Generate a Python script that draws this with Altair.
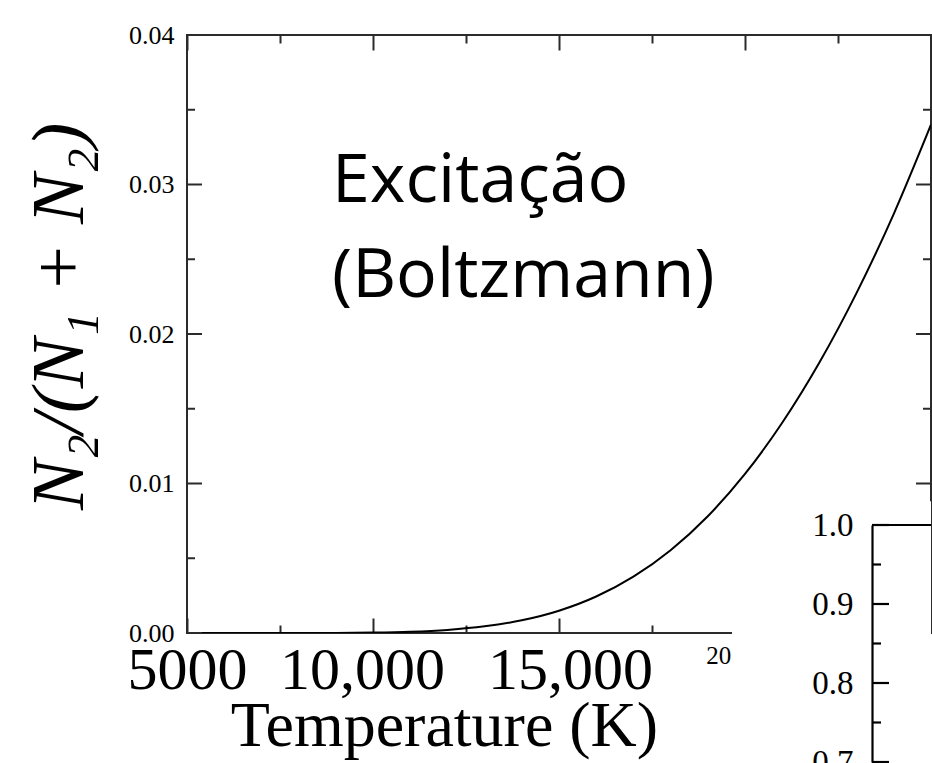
import altair as alt
import pandas as pd

# ---- data ----
temperature_k = [5000, 6000, 7000, 8000, 9000, 10000, 11000, 12000, 13000, 14000, 15000,
                 16000, 17000, 18000, 19000, 20000, 21000, 22000, 23000, 24000, 25000]
fraction_n2 = [0.0, 0.0, 0.0000002, 0.0000015, 0.0000078, 0.000029, 0.000085, 0.000208, 0.000445,
               0.00085, 0.00149, 0.00244, 0.00377, 0.00554, 0.00781, 0.01064, 0.01406, 0.01809,
               0.02275, 0.02804, 0.0340]

y_major = [0.0, 0.01, 0.02, 0.03, 0.04]
y_minor = [0.005, 0.015, 0.025, 0.035]
x_major = [5000, 10000, 15000, 20000, 25000]
x_minor = [7500, 12500, 17500, 22500]
x_big_labels = [5000, 10000, 15000]
x_small_labels = [20000]
inset_major = [0.7, 0.8, 0.9, 1.0]
inset_minor = [0.75, 0.85, 0.95]
annot_text = ["Excitação", "(Boltzmann)"]
annot_t = [8900, 8900]
annot_f = [0.0288, 0.02245]

# ---- layout ----
W, H = 744, 598
X_DOMAIN = [5000, 25000]
Y_DOMAIN = [0.0, 0.04]
INSET_T0 = 23414          # inset frame position on the main temperature axis
INSET_BOX_T = [19650, 25000]
INSET_DOMAIN = [0.7, 1.0]
INSET_RANGE = [727, 490]
INSET_BOX_F = [0.69, 1.03]
INSET_PX = (INSET_T0 - X_DOMAIN[0]) / (X_DOMAIN[1] - X_DOMAIN[0]) * W
MAJOR, MINOR = 15, 8
PX_T = (X_DOMAIN[1] - X_DOMAIN[0]) / W   # temperature units per pixel

SERIF = "Liberation Serif"
FRAME = "#2b2b2b"
TW = 2

curve = pd.DataFrame({"T": temperature_k, "f": fraction_n2})
xs = alt.Scale(domain=X_DOMAIN, nice=False, zero=False)
ys = alt.Scale(domain=Y_DOMAIN, nice=False, zero=False)
ins = alt.Scale(domain=INSET_DOMAIN, range=INSET_RANGE, nice=False, zero=False)


def tick_axis(orient, values, size, offset=0):
    return alt.Axis(orient=orient, values=values, offset=offset, labels=False, ticks=True,
                    tickSize=size, tickColor=FRAME, tickWidth=TW, domain=False, grid=False,
                    title=None)


def X(axis):
    return alt.X("T:Q", scale=xs, axis=axis)


def Y(axis):
    return alt.Y("f:Q", scale=ys, axis=axis)


def y_ticks(values, scale, t_start, length_px, color=FRAME, width=TW):
    t_end = t_start + length_px * PX_T
    df = pd.DataFrame({"v": values, "a": [t_start] * len(values), "b": [t_end] * len(values)})
    return alt.Chart(df).mark_rule(color=color, strokeWidth=width, clip=False).encode(
        x=alt.X("a:Q", scale=xs, axis=None), x2="b:Q",
        y=alt.Y("v:Q", scale=scale, axis=None))


base = alt.Chart(curve)

line = base.mark_line(color="black", strokeWidth=2, interpolate="monotone", clip=True).encode(
    x=X(alt.Axis(orient="bottom", values=x_big_labels,
                 labelExpr="datum.value == 5000 ? '5000' : format(datum.value, ',.0f')",
                 labelOffset={"expr": "datum.value == 10000 ? -11 : (datum.value == 15000 ? 11 : 0)"},
                 labelFont=SERIF, labelFontSize=60, labelColor="black", labelBaseline="alphabetic",
                 labelPadding=55, labelFlush=False, labelOverlap=False, ticks=False, domain=False,
                 grid=False, title="Temperature (K)", titleFont=SERIF, titleFontSize=64,
                 titleFontWeight="normal", titleColor="black", titleX=257, titleY=112,
                 titleBaseline="alphabetic", titleAlign="center")),
    y=Y(alt.Axis(orient="left", values=y_major, format=".2f", labelFont=SERIF, labelFontSize=26,
                 labelColor="black", labelPadding=13, labelFlush=False, labelOverlap=False,
                 ticks=False, domain=False, grid=False, title="N₂/(N₁ + N₂)", titleFont=SERIF,
                 titleFontStyle="italic", titleFontSize=75, titleFontWeight="normal",
                 titleColor="black", titleAngle=270, titleBaseline="alphabetic",
                 titleAlign="center", titleX=-105, titleY=281)),
)

ghost = base.mark_line(opacity=0)

l_b = ghost.encode(
    x=X(alt.Axis(orient="bottom", values=x_small_labels, format=",.0f", labelFont=SERIF,
                 labelFontSize=25, labelColor="black", labelBaseline="alphabetic", labelPadding=30,
                 labelOffset=-5, labelFlush=False, labelOverlap=False, ticks=False, domain=False,
                 grid=False, title=None)),
    y=Y(None),
)
# inward ticks on the bottom and top edges (axes moved across the plot)
l_c = ghost.encode(x=X(tick_axis("top", x_major, MAJOR, offset=-H)), y=Y(None))
l_d = ghost.encode(x=X(tick_axis("top", x_minor, MINOR, offset=-H)), y=Y(None))
l_e = ghost.encode(x=X(tick_axis("bottom", x_major, MAJOR, offset=-H)), y=Y(None))
l_f = ghost.encode(x=X(tick_axis("bottom", x_minor, MINOR, offset=-H)), y=Y(None))

# inward ticks on the left and right edges of the main frame
t_lmaj = y_ticks(y_major, ys, X_DOMAIN[0], MAJOR)
t_lmin = y_ticks(y_minor, ys, X_DOMAIN[0], MINOR)
t_rmaj = y_ticks(y_major, ys, X_DOMAIN[1] - MAJOR * PX_T, MAJOR)
t_rmin = y_ticks(y_minor, ys, X_DOMAIN[1] - MINOR * PX_T, MINOR)

annot = alt.Chart(pd.DataFrame({"label": annot_text, "T": annot_t, "f": annot_f})).mark_text(
    font="Open Sans", fontSize=68, align="left", baseline="alphabetic", color="black"
).encode(x=X(None), y=Y(None), text="label:N")

box = alt.Chart(pd.DataFrame({"t0": [INSET_BOX_T[0]], "t1": [INSET_BOX_T[1]],
                              "g0": [INSET_BOX_F[0]], "g1": [INSET_BOX_F[1]]})).mark_rect(
    fill="white", clip=False
).encode(x=alt.X("t0:Q", scale=xs, axis=None), x2="t1:Q",
         y=alt.Y("g0:Q", scale=ins, axis=None), y2="g1:Q")

inset_df = pd.DataFrame({"t0": [INSET_T0], "t1": [X_DOMAIN[1]], "g": [INSET_DOMAIN[1]]})
inset_top = alt.Chart(inset_df).mark_rule(color="black", strokeWidth=2, clip=False).encode(
    x=alt.X("t0:Q", scale=xs, axis=None), x2="t1:Q",
    y=alt.Y("g:Q", scale=ins,
            axis=alt.Axis(orient="left", offset=-INSET_PX, values=inset_major, format=".1f",
                          labelFont=SERIF, labelFontSize=33, labelColor="black", labelPadding=19,
                          labelFlush=False, labelOverlap=False, ticks=False, domain=True,
                          domainColor="black", domainWidth=2.2, grid=False, title=None, zindex=1)),
)
inset_maj = y_ticks(inset_major, ins, INSET_T0, 17, color="black", width=2.2)
inset_min = y_ticks(inset_minor, ins, INSET_T0, 9, color="black", width=2.2)

chart = alt.layer(
    line, l_b, l_c, l_d, l_e, l_f, t_lmaj, t_lmin, t_rmaj, t_rmin, annot, box, inset_top,
    inset_maj, inset_min
).resolve_scale(
    y="independent"
).resolve_axis(x="independent", y="independent").properties(
    width=W, height=H,
    autosize=alt.AutoSizeParams(type="none"),
    padding={"left": 187, "top": 35, "right": 1, "bottom": 130},
    background="white",
).configure_view(stroke=FRAME, strokeWidth=2)

chart.save("out.html", embed_options={"renderer": "svg", "actions": False})
